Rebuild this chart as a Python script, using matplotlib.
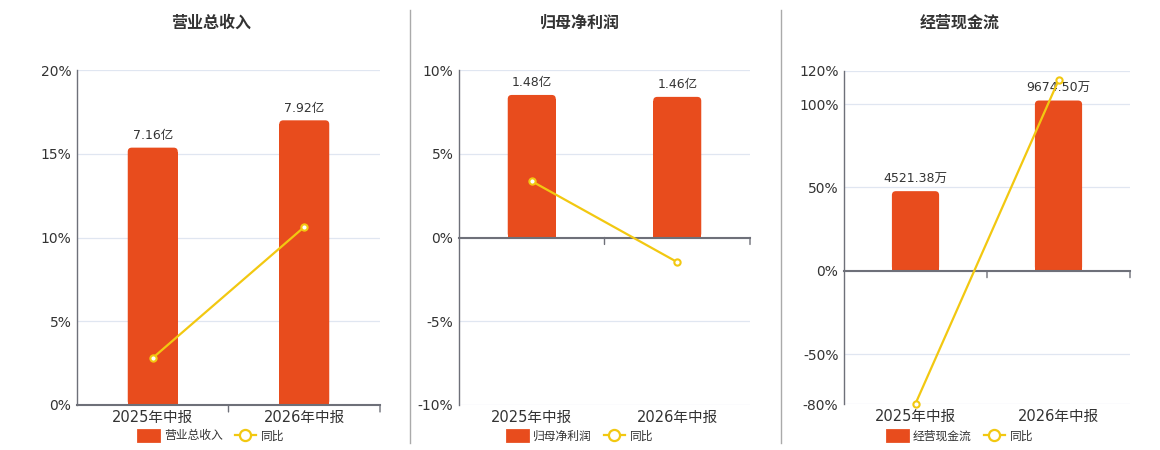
import matplotlib
matplotlib.use("Agg")
import matplotlib.pyplot as plt
import matplotlib.transforms as mtransforms
from matplotlib.patches import Patch, FancyBboxPatch
from matplotlib.lines import Line2D
import numpy as np

plt.rcParams['font.family'] = ['DejaVu Sans', 'Noto Sans CJK SC']

categories = ["2025年中报", "2026年中报"]

titles = ["营业总收入", "归母净利润", "经营现金流"]
bar_values = [[7.16, 7.92], [1.48, 1.46], [4521.38, 9674.50]]
bar_labels = [["7.16亿", "7.92亿"], ["1.48亿", "1.46亿"], ["4521.38万", "9674.50万"]]
yoy_values = [[2.81, 10.63], [3.36, -1.47], [-79.8, 114.2]]
yoy_ticks = [[0, 5, 10, 15, 20], [-10, -5, 0, 5, 10], [-80, -50, 0, 50, 100, 120]]
yoy_lims = [(0, 20), (-10, 10), (-80, 120)]
bar_lims = [(0, 9.32), (-1.739, 1.739), (-7580, 11370)]
legend_name = "同比"

BAR_C = "#E84C1D"
LINE_C = "#F2C811"
GRID_C = "#E0E6F1"
AXIS_C = "#6E7079"
TEXT_C = "#333333"

fig = plt.figure(figsize=(11.6, 4.5), dpi=100)

# axes geometry in pixels (left, right, top, bottom)
geo = [(77, 380, 70, 405), (459, 750, 70, 405), (844, 1130, 70.7, 404)]
centers = [211, 580, 960]
W, H = 1160, 450
BAR_W = 0.33
R_PX = 4.0

for i in range(3):
    l, r, t, b = geo[i]
    ax = fig.add_axes([l / W, (H - b) / H, (r - l) / W, (b - t) / H])
    axb = ax.twinx()
    axl = ax.twinx()
    ax.set_zorder(1)
    axb.set_zorder(2)
    axl.set_zorder(3)
    axb.patch.set_visible(False)
    axl.patch.set_visible(False)

    x = np.arange(len(categories))

    # bars with rounded tops
    axb.set_xlim(-0.5, 1.5)
    axb.set_ylim(*bar_lims[i])
    xpp = 2.0 / (r - l)
    ypp = (bar_lims[i][1] - bar_lims[i][0]) / (b - t)
    rx = R_PX * xpp
    ry = R_PX * ypp
    vals = np.array(bar_values[i])
    axb.bar(x, vals - ry, width=BAR_W, color=BAR_C, lw=0)
    for xi, v in zip(x, vals):
        axb.add_patch(FancyBboxPatch((xi - BAR_W / 2, 0), BAR_W, v,
                                     boxstyle=f"round,pad=0,rounding_size={rx}",
                                     mutation_aspect=ypp / xpp,
                                     facecolor=BAR_C, edgecolor='none'))
    axb.axis('off')
    for xi, v, lab in zip(x, vals, bar_labels[i]):
        axb.annotate(lab, (xi, v), xytext=(0, 4), textcoords='offset points',
                     ha='center', va='bottom', fontsize=9, color=TEXT_C)

    # line layer
    axl.plot(x, yoy_values[i], color=LINE_C, lw=1.6, marker='o', ms=4.5,
             mfc='white', mec=LINE_C, mew=1.5, clip_on=False, zorder=4)
    axl.set_xlim(-0.5, 1.5)
    axl.set_ylim(*yoy_lims[i])
    axl.axis('off')

    # base axis: grid, ticks, spines
    ax.set_xlim(-0.5, 1.5)
    ax.set_ylim(*yoy_lims[i])
    ax.set_yticks(yoy_ticks[i])
    ax.set_yticklabels([f"{v}%" for v in yoy_ticks[i]])
    ax.tick_params(axis='y', length=0, labelsize=10, colors=TEXT_C, pad=4)
    ax.grid(axis='y', color=GRID_C, lw=0.9)
    for s in ['top', 'right']:
        ax.spines[s].set_visible(False)
    ax.spines['left'].set_color(AXIS_C)
    ax.spines['left'].set_linewidth(1.0)
    ax.spines['bottom'].set_visible(False)
    ax.set_xticks([])
    trans = mtransforms.blended_transform_factory(ax.transData, ax.transAxes)
    for xi, c in zip(x, categories):
        ax.text(xi, -0.015, c, transform=trans, ha='center', va='top',
                fontsize=10.5, color=TEXT_C)

    # zero axis line above bars
    axl.axhline(0, color=AXIS_C, lw=1.5, zorder=1, clip_on=False)
    for xb in [0.5, 1.5]:
        axl.annotate('', xy=(xb, 0), xytext=(0, -5), textcoords='offset points',
                     arrowprops=dict(arrowstyle='-', color=AXIS_C, lw=1,
                                     shrinkA=0, shrinkB=0))

    fig.text(centers[i] / W, 1 - 23 / H, titles[i], ha='center', va='center',
             fontsize=11.5, fontweight='bold', color=TEXT_C)

    handles = [Patch(facecolor=BAR_C, edgecolor=BAR_C, joinstyle='round', lw=2),
               Line2D([0], [0], color=LINE_C, lw=1.6, marker='o', ms=8, mfc='white',
                      mec=LINE_C, mew=1.6)]
    fig.legend(handles, [titles[i], legend_name], loc='center',
               bbox_to_anchor=(centers[i] / W, 1 - 436 / H), ncol=2, frameon=False,
               fontsize=8.5, handlelength=1.8, handleheight=1.1, columnspacing=1.0,
               handletextpad=0.4, labelcolor=TEXT_C)

# separators
for xs in [410, 781]:
    fig.add_artist(Line2D([xs / W, xs / W], [1 - 443 / H, 1 - 10 / H], color="#AAAAAA", lw=1))

fig.savefig("out.png", dpi=100, facecolor='white')
